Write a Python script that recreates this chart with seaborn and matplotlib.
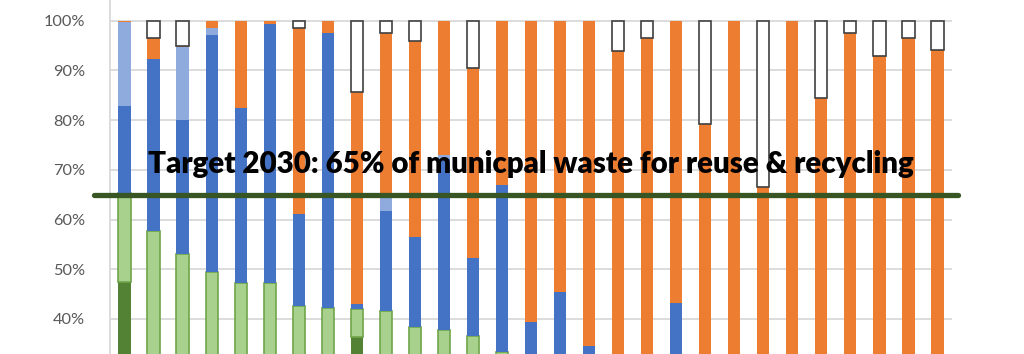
import matplotlib
matplotlib.use("Agg")
import matplotlib.pyplot as plt
import matplotlib.transforms as mtransforms
import seaborn as sns
import numpy as np
import pandas as pd

# ---- data (percent of municipal waste, stacked bottom -> top) ----
countries = [f"Country {i}" for i in range(1, 30)]
recycling     = [47.5, 30, 28, 27, 26, 29, 27, 28, 36.4, 30, 26, 27, 28, 25, 24, 22, 23, 20, 21, 20, 19, 18, 17, 17, 15, 14, 12, 10, 7]
composting    = [17.8, 27.7, 25.1, 22.4, 21.3, 18.2, 15.6, 14.1, 5.5, 11.5, 12.3, 10.8, 8.6, 8.4, 7, 8, 6, 8, 6, 6, 6, 6, 5, 4, 4, 4, 3, 2, 2]
incin_energy  = [17.5, 34.5, 26.9, 47.7, 35.1, 52.1, 18.6, 55.4, 1.2, 20.3, 18.2, 34.4, 15.6, 33.5, 8.4, 15.5, 5.5, 0, 0, 17.3, 0, 0, 0, 0, 0, 0, 0, 0, 0]
incin_other   = [16.9, 0, 14.8, 1.4, 0, 0, 0, 0, 0, 3.5, 0, 0.8, 0, 0, 0, 0, 0, 0, 0, 0, 0, 0, 0, 0, 0, 0, 0, 0, 0]
landfill      = [0.3, 4.3, 0.2, 1.5, 17.6, 0.6, 37.3, 2.5, 42.6, 32.2, 39.4, 27.0, 38.2, 33.1, 60.6, 54.5, 65.5, 66, 69.5, 56.7, 54.2, 76, 44.5, 79, 65.4, 79.5, 77.9, 84.5, 85.2]
other         = [0, 3.5, 5.0, 0, 0, 0, 1.5, 0, 14.3, 2.5, 4.1, 0, 9.6, 0, 0, 0, 0, 6, 3.5, 0, 20.8, 0, 33.5, 0, 15.6, 2.5, 7.1, 3.5, 5.8]
target = 65
target_label = "Target 2030: 65% of municpal waste for reuse & recycling"
yticks = [40, 50, 60, 70, 80, 90, 100]

series = [
    ("recycling", recycling, "#548235", "none", 0),
    ("composting", composting, "#A9D18E", "#6FA54A", 1.2),
    ("incineration (energy recovery)", incin_energy, "#4472C4", "none", 0),
    ("incineration", incin_other, "#8FAADC", "none", 0),
    ("landfill", landfill, "#ED7D31", "none", 0),
    ("other", other, "#FFFFFF", "#404040", 1.2),
]

sns.set_theme(style="white")
plt.rcParams["font.family"] = ["Lato", "DejaVu Sans"]

fig = plt.figure(figsize=(10.24, 3.54), dpi=100)
ax = fig.add_axes([110 / 1024, 0.0, 842 / 1024, 1.0])

bottom = np.zeros(len(countries))
for name, vals, fc, ec, lw in series:
    vals = np.asarray(vals, dtype=float)
    df = pd.DataFrame({"country": countries, "value": vals})
    lws = [lw if v > 0 else 0 for v in vals]
    sns.barplot(data=df, x="country", y="value", ax=ax, color=fc,
                width=0.42, bottom=bottom.copy(), edgecolor=ec,
                linewidth=lws, saturation=1, errorbar=None, zorder=3)
    bottom += vals

ax.set_xlim(-0.5, len(countries) - 0.5)
ax.set_ylim(32.94, 104.17)
ax.set_yticks(yticks)
ax.set_yticklabels([f"{t}%" for t in yticks], fontsize=11.8, color="#595959")
ax.tick_params(axis="y", length=0, pad=18)
ax.set_xticks([])
ax.set_xlabel("")
ax.set_ylabel("")
ax.grid(axis="y", color="#D9D9D9", linewidth=1.3, zorder=0)
ax.set_axisbelow(True)
for s in ["top", "right", "bottom"]:
    ax.spines[s].set_visible(False)
ax.spines["left"].set_color("#D9D9D9")
ax.spines["left"].set_linewidth(1.3)

# target line
ax.axhline(target, xmin=-0.019, xmax=1.007, color="#375623", linewidth=3.8,
           clip_on=False, zorder=5)

# target label, fitted to the reference width
txt = ax.text(0.5, 69.4, target_label,
              transform=mtransforms.blended_transform_factory(ax.transAxes, ax.transData),
              ha="center", va="baseline", fontsize=22, fontweight="heavy",
              color="#000000", zorder=6)
fig.canvas.draw()
w = txt.get_window_extent().width
txt.set_fontsize(22 * 766 / w)

fig.savefig("out.png", dpi=100)
